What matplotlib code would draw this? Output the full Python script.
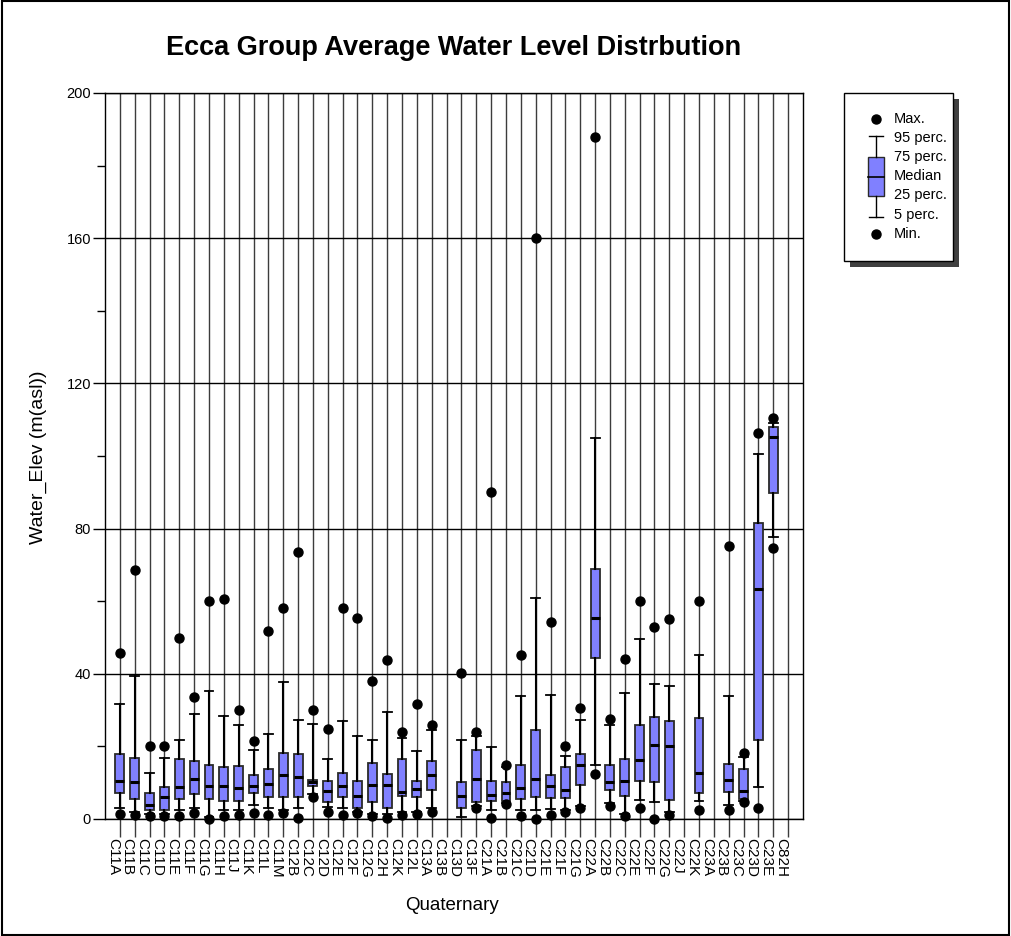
import matplotlib
matplotlib.use('Agg')
import matplotlib.pyplot as plt
import matplotlib.transforms as mtransforms
from matplotlib.patches import Rectangle
import numpy as np

plt.rcParams['font.family'] = ['Liberation Sans', 'DejaVu Sans']

nan = np.nan

categories = ['C11A', 'C11B', 'C11C', 'C11D', 'C11E', 'C11F', 'C11G', 'C11H', 'C11J', 'C11K',
              'C11L', 'C11M', 'C12B', 'C12C', 'C12D', 'C12E', 'C12F', 'C12G', 'C12H', 'C12K',
              'C12L', 'C13A', 'C13B', 'C13D', 'C13F', 'C21A', 'C21B', 'C21C', 'C21D', 'C21E',
              'C21F', 'C21G', 'C22A', 'C22B', 'C22C', 'C22E', 'C22F', 'C22G', 'C22J', 'C22K',
              'C23A', 'C23B', 'C23C', 'C23D', 'C23E', 'C82H']

v_max = [45.8, 68.6, 20.1, 20.1, 50.0, 33.6, 60.0, 60.7, 30.1, 21.4,
         51.9, 58.0, 73.5, 30.1, 24.8, 58.0, 55.3, 37.9, 43.8, 24.0,
         31.8, 26.0, nan, 40.1, 23.9, 90.1, 15.0, 45.2, 160.0, 54.3,
         20.1, 30.6, 188.0, 27.6, 44.1, 60.1, 52.8, 55.1, nan, 60.1,
         nan, 75.1, 18.3, 106.2, 110.5, nan]
v_p95 = [31.6, 39.5, 12.7, 16.7, 21.8, 29.0, 35.3, 28.3, 26.0, 19.1,
         23.3, 37.8, 27.4, 26.3, 16.6, 27.0, 22.9, 21.8, 29.5, 22.2,
         18.6, 24.5, nan, 21.8, 23.0, 19.9, 14.2, 33.9, 61.0, 34.2,
         17.4, 27.4, 105.0, 26.0, 34.6, 49.6, 37.3, 36.6, nan, 45.3,
         nan, 34.0, 17.0, 100.5, 109.0, nan]
v_p75 = [18.0, 16.7, 7.2, 8.7, 16.5, 16.1, 15.0, 14.4, 14.7, 12.1,
         13.8, 18.3, 17.8, 10.8, 10.5, 12.7, 10.6, 15.4, 12.3, 16.5,
         10.6, 15.9, nan, 10.1, 19.0, 10.5, 10.3, 15.0, 24.5, 12.2,
         14.2, 17.9, 68.9, 15.0, 16.5, 25.9, 28.1, 27.1, nan, 27.7,
         nan, 15.2, 13.8, 81.5, 107.9, nan]
v_med = [10.6, 10.1, 3.75, 6.1, 8.7, 10.9, 9.2, 9.2, 8.5, 9.2,
         9.7, 12.2, 11.7, 10.1, 7.6, 9.2, 6.2, 9.3, 9.3, 7.5,
         8.4, 12.1, nan, 6.4, 11.1, 6.7, 7.3, 8.5, 11.0, 9.2,
         7.9, 15.0, 55.5, 10.1, 10.6, 16.2, 20.4, 20.0, nan, 12.7,
         nan, 10.7, 7.6, 63.3, 105.1, nan]
v_p25 = [7.2, 5.5, 2.6, 2.6, 5.5, 6.9, 5.5, 4.9, 4.9, 7.2,
         6.1, 6.1, 6.1, 9.0, 4.7, 6.1, 2.9, 4.6, 2.9, 6.2,
         6.1, 8.0, nan, 2.9, 4.8, 5.0, 5.0, 5.5, 6.1, 5.8,
         5.8, 9.3, 44.3, 8.0, 6.3, 10.4, 10.1, 5.2, nan, 7.1,
         nan, 7.4, 5.6, 21.8, 89.9, nan]
v_p5 = [3.1, 1.8, 1.5, 1.5, 2.5, 2.9, 0.5, 2.4, 2.4, 3.9,
        3.1, 2.6, 3.1, 7.0, 3.2, 2.9, 2.0, 1.5, 1.5, 2.0,
        2.0, 2.9, nan, 0.5, 3.5, 2.4, 4.5, 2.4, 2.4, 2.7,
        2.5, 3.5, 15.0, 4.5, 1.5, 5.3, 4.6, 2.0, nan, 5.0,
        nan, 3.9, 5.0, 8.7, 77.7, nan]
v_min = [1.3, 1.1, 0.7, 0.7, 0.7, 1.6, 0.0, 0.7, 1.1, 1.6,
         1.1, 1.6, 0.3, 6.1, 2.0, 1.0, 1.6, 0.7, 0.2, 1.2,
         1.4, 2.0, nan, nan, 2.9, 0.4, 4.1, 0.7, 0.1, 1.0,
         1.9, 2.9, 12.5, 3.7, 0.7, 3.0, 0.1, 1.0, nan, 2.6,
         nan, 2.4, 4.7, 2.9, 74.6, nan]

title = 'Ecca Group Average Water Level Distrbution'
x_title = 'Quaternary'
y_title = 'Water_Elev (m(asl))'
legend_labels = ['Max.', '95 perc.', '75 perc.', 'Median', '25 perc.', '5 perc.', 'Min.']

W, H = 1011, 936
fig = plt.figure(figsize=(W / 100, H / 100), dpi=100)
ax = fig.add_axes([105 / W, 1 - 819 / H, (803 - 105) / W, (819 - 93) / H])

n = len(categories)
pos = np.arange(1, n + 1)

stats, bpos = [], []
for i in range(n):
    if np.isnan(v_med[i]):
        continue
    stats.append(dict(med=v_med[i], q1=v_p25[i], q3=v_p75[i],
                      whislo=v_p5[i], whishi=v_p95[i], fliers=[]))
    bpos.append(pos[i])

box_col = '#8080ff'
ax.bxp(stats, positions=bpos, widths=0.6, capwidths=0.6, patch_artist=True,
       showfliers=False, manage_ticks=False,
       boxprops=dict(facecolor=box_col, edgecolor='#2a2a2a', linewidth=1.3),
       medianprops=dict(color='black', linewidth=2.2),
       whiskerprops=dict(color='black', linewidth=1.5),
       capprops=dict(color='black', linewidth=1.3))

ax.plot(pos, v_max, 'o', color='black', ms=6.5, ls='none', clip_on=False, zorder=5)
ax.plot(pos, v_min, 'o', color='black', ms=6.5, ls='none', clip_on=False, zorder=5)

ax.set_xlim(0, n + 1)
ax.set_ylim(0, 200)

grid_col = '#3c3c3c'
ax.set_xticks(pos)
ax.set_xticklabels(categories, rotation=-90, ha='right', fontsize=11)
ax.xaxis.grid(True, color=grid_col, lw=1.0)
ax.set_yticks([0, 40, 80, 120, 160, 200])
ax.set_yticks([20, 60, 100, 140, 180], minor=True)
ax.yaxis.grid(True, which='major', color='black', lw=1.0)
ax.set_axisbelow(True)

offset = mtransforms.ScaledTranslation(-2 / 100, 0, fig.dpi_scale_trans)
for lab in ax.get_xticklabels():
    lab.set_transform(lab.get_transform() + offset)
ax.tick_params(axis='x', length=13, width=1.0, color=grid_col, pad=1)
ax.tick_params(axis='y', which='major', length=9, width=1.0, labelsize=10.5, pad=1)
ax.tick_params(axis='y', which='minor', length=6, width=1.0)
for s in ax.spines.values():
    s.set_linewidth(1.0)
    s.set_color('black')

fig.text(454 / W, 1 - 48 / H, title, ha='center', va='center',
         fontsize=19.5, fontweight='bold')
fig.text(38 / W, 1 - 457 / H, y_title, rotation=90, ha='center', va='center', fontsize=14)
fig.text(452 / W, 1 - 905 / H, x_title, ha='center', va='center', fontsize=13.5)

# legend panel in pixel coordinates
lax = fig.add_axes([0, 0, 1, 1], zorder=10)
lax.set_xlim(0, W)
lax.set_ylim(H, 0)
lax.axis('off')
lax.add_patch(Rectangle((850, 99), 109, 168, fc='#404040', ec='none'))
lax.add_patch(Rectangle((844, 93), 109, 168, fc='white', ec='black', lw=1.0))
cx = 876
lax.plot([cx], [119], 'o', color='black', ms=6.5)
lax.plot([cx], [234], 'o', color='black', ms=6.5)
lax.plot([cx, cx], [136, 157], color='black', lw=1.0)
lax.plot([cx, cx], [196, 217], color='black', lw=1.0)
lax.plot([cx - 7, cx + 7], [136, 136], color='black', lw=1.0)
lax.plot([cx - 7, cx + 7], [217, 217], color='black', lw=1.0)
lax.add_patch(Rectangle((cx - 8, 157), 16, 39, fc=box_col, ec='#2a2a2a', lw=1.0))
lax.plot([cx - 8, cx + 8], [176.5, 176.5], color='black', lw=1.2)
ly = [119, 138, 157, 176.5, 195.5, 215, 234]
for t, yv in zip(legend_labels, ly):
    lax.text(894, yv, t, ha='left', va='center', fontsize=10.5)

fig.patches.append(Rectangle((0.0015, 0.0015), 0.997, 0.997, transform=fig.transFigure,
                             fill=False, ec='black', lw=1.5))

fig.savefig('out.png', dpi=100)
